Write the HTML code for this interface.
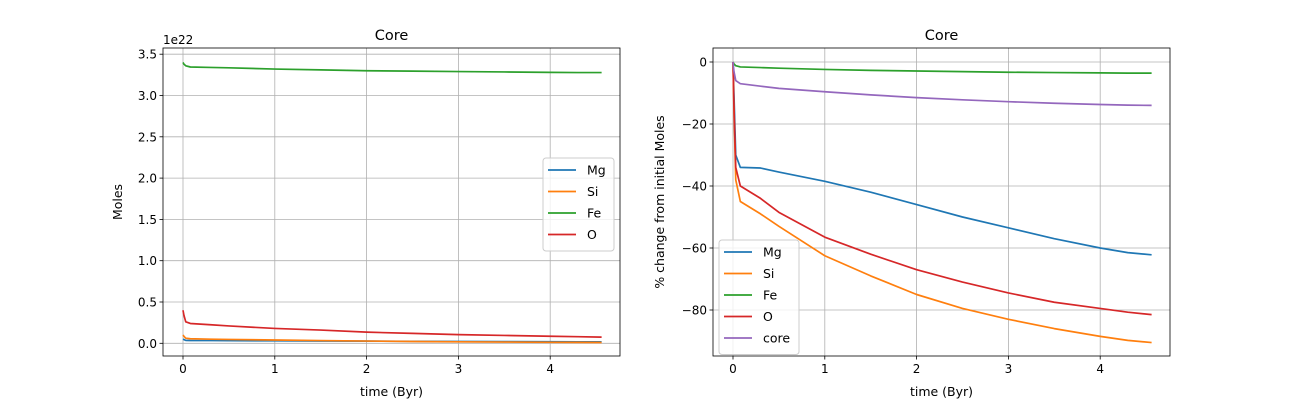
<!DOCTYPE html>
<html><head><meta charset="utf-8"><style>
html,body{margin:0;padding:0;background:#fff;}
svg{display:block;font-family:"DejaVu Sans","Liberation Sans",sans-serif;}
</style></head><body>
<svg id="svg" width="1300" height="400" xmlns="http://www.w3.org/2000/svg"></svg>
<script>
const times=[0,0.01,0.03,0.08,0.3,0.5,1,1.5,2,2.5,3,3.5,4,4.3,4.56];
const molesMg=[0.05,0.045,0.035,0.033,0.033,0.032,0.03,0.028,0.026,0.024,0.022,0.02,0.019,0.018,0.018];
const molesSi=[0.10,0.085,0.062,0.055,0.05,0.047,0.04,0.033,0.027,0.022,0.018,0.015,0.012,0.011,0.01];
const molesFe=[3.40,3.38,3.36,3.345,3.34,3.335,3.32,3.31,3.30,3.295,3.29,3.285,3.28,3.278,3.278];
const molesO=[0.40,0.34,0.26,0.24,0.225,0.21,0.18,0.16,0.135,0.12,0.105,0.095,0.085,0.08,0.075];
const pctMg=[0,-10,-30,-34,-34.2,-35.5,-38.5,-42,-46,-50,-53.5,-57,-60,-61.5,-62.2];
const pctSi=[0,-15,-38,-45,-49,-53,-62.5,-69,-75,-79.5,-83,-86,-88.5,-89.8,-90.5];
const pctFe=[0,-0.6,-1.2,-1.6,-1.8,-2,-2.4,-2.7,-2.9,-3.1,-3.3,-3.4,-3.5,-3.6,-3.6];
const pctO=[0,-14,-34,-40,-44,-48.5,-56.5,-62,-67,-71,-74.5,-77.5,-79.5,-80.7,-81.5];
const pctCore=[0,-3,-6,-7,-7.8,-8.5,-9.6,-10.6,-11.5,-12.2,-12.8,-13.3,-13.7,-13.9,-14];
const xTicks=[0,1,2,3,4];
const leftYTicks=[0,0.5,1,1.5,2,2.5,3,3.5];
const leftYLabels=["0.0","0.5","1.0","1.5","2.0","2.5","3.0","3.5"];
const rightYTicks=[0,-20,-40,-60,-80];
const rightYLabels=["0","−20","−40","−60","−80"];

const NS="http://www.w3.org/2000/svg";
const svg=document.getElementById('svg');
function mk(tag,attrs,parent,text){const e=document.createElementNS(NS,tag);for(const k in attrs)e.setAttribute(k,attrs[k]);if(text!==undefined)e.textContent=text;(parent||svg).appendChild(e);return e;}

function panel(opt){
  const g=mk('g',{});
  
  
  const L=opt.L,R=opt.R,T=48,B=356;
  const xs=t=>opt.x0+t*opt.kx;
  const ys=v=>opt.y0+v*opt.ky;
  xTicks.forEach(t=>{const l=mk('line',{x1:xs(t),x2:xs(t),y1:T,y2:B,stroke:'#b0b0b0','stroke-width':0.8},g);
    });
  opt.yt.forEach(v=>{const l=mk('line',{x1:L,x2:R,y1:ys(v),y2:ys(v),stroke:'#b0b0b0','stroke-width':0.8},g);
    });
  opt.series.forEach(s=>{
    const d=times.map((t,i)=>(i?'L':'M')+xs(t).toFixed(2)+','+ys(s.v[i]).toFixed(2)).join(' ');
    const p=mk('path',{d:d,fill:'none',stroke:s.c,'stroke-width':1.7,'stroke-linejoin':'round'},g);
    
    
  });
  const f=mk('rect',{x:L,y:T,width:R-L,height:B-T,fill:'none',stroke:'#000','stroke-width':0.8},g);
  
  xTicks.forEach(t=>{mk('line',{x1:xs(t),x2:xs(t),y1:B,y2:B+3.5,stroke:'#000','stroke-width':0.8},g);
    const tx=mk('text',{x:xs(t),y:B+17,'font-size':12,'text-anchor':'middle'},g,String(t));
    });
  opt.yt.forEach((v,i)=>{mk('line',{x1:L-3.5,x2:L,y1:ys(v),y2:ys(v),stroke:'#000','stroke-width':0.8},g);
    const tx=mk('text',{x:L-6,y:ys(v)+4.5,'font-size':12,'text-anchor':'end'},g,opt.yl[i]);
    });
  const ti=mk('text',{x:(L+R)/2,y:40,'font-size':14.5,'text-anchor':'middle'},g,'Core');
  
  const xl=mk('text',{x:(L+R)/2,y:396,'font-size':12.5,'text-anchor':'middle'},g,'time (Byr)');
  
  const yl=mk('text',{x:0,y:0,'font-size':12.5,'text-anchor':'middle',transform:`translate(${opt.ylx},${(T+B)/2}) rotate(-90)`},g,opt.ylabel);
  
  if(opt.offset){const o=mk('text',{x:L,y:44,'font-size':12},g,'1e22');
    }
  const lg=mk('g',{},g);
  
  const h=opt.series.length*21.5+7;
  mk('rect',{x:opt.lx,y:opt.ly,width:opt.lw,height:h,rx:3,fill:'#fff','fill-opacity':0.8,stroke:'#ccc','stroke-width':1},lg);
  opt.series.forEach((s,i)=>{
    const yy=opt.ly+12+i*21.5;
    const e=mk('g',{},lg);
    
    
    mk('line',{x1:opt.lx+5,x2:opt.lx+33,y1:yy,y2:yy,stroke:s.c,'stroke-width':1.7},e);
    mk('text',{x:opt.lx+44,y:yy+4.5,'font-size':12.5},e,s.n);
  });
}
panel({name:'moles-panel',L:163,R:620,x0:183,kx:91.8,y0:343.3,ky:-82.6,yt:leftYTicks,yl:leftYLabels,ylabel:'Moles',ylx:122,offset:true,
  lx:543,ly:158,lw:71,
  series:[{n:'Mg',c:'#1f77b4',v:molesMg},{n:'Si',c:'#ff7f0e',v:molesSi},{n:'Fe',c:'#2ca02c',v:molesFe},{n:'O',c:'#d62728',v:molesO}]});
panel({name:'percent-change-panel',L:713,R:1170,x0:733,kx:91.8,y0:62,ky:-3.1,yt:rightYTicks,yl:rightYLabels,ylabel:'% change from initial Moles',ylx:664,offset:false,
  lx:719,ly:240,lw:80,
  series:[{n:'Mg',c:'#1f77b4',v:pctMg},{n:'Si',c:'#ff7f0e',v:pctSi},{n:'Fe',c:'#2ca02c',v:pctFe},{n:'O',c:'#d62728',v:pctO},{n:'core',c:'#9467bd',v:pctCore}]});
</script>
</body></html>
